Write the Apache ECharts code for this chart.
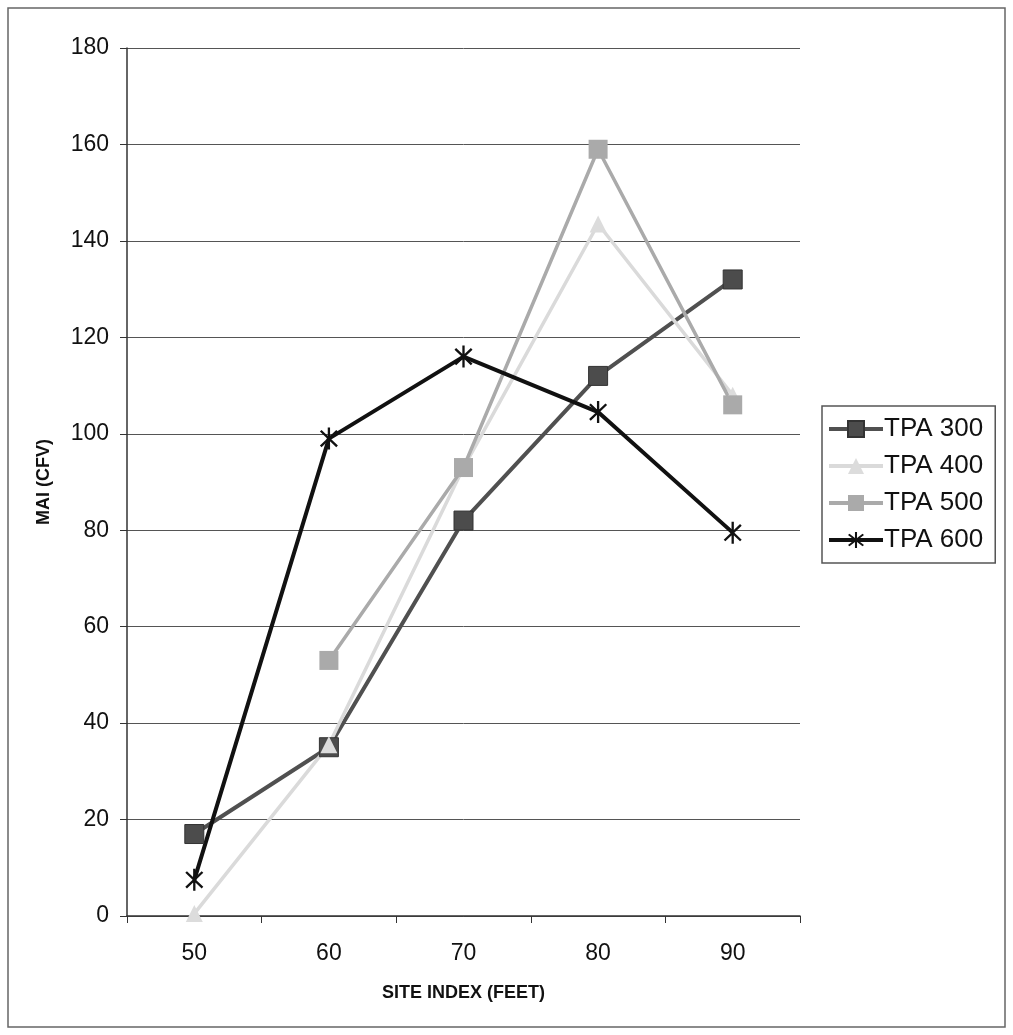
<!DOCTYPE html>
<html>
<head>
<meta charset="utf-8">
<script src="https://cdn.jsdelivr.net/npm/echarts@6/dist/echarts.min.js"></script>
<style>
  html, body { margin: 0; padding: 0; background: #fff; }
  #container { width: 1013px; height: 1035px; }
</style>
</head>
<body>
<div id="container"></div>
<script>
var siteIndex = ['50', '60', '70', '80', '90'];
var tpa300 = [17, 35, 82, 112, 132];
var tpa400 = [0.5, 35.5, 93, 143.5, 108];
var tpa500 = [null, 53, 93, 159, 106];
var tpa600 = [7.5, 99, 116, 104.5, 79.5];

// asterisk marker, three thin bars
var star = 'path://M-1,-10 L1,-10 L1,10 L-1,10 Z ' +
  'M-7.78,-6.36 L-6.36,-7.78 L7.78,6.36 L6.36,7.78 Z ' +
  'M-6.36,7.78 L-7.78,6.36 L6.36,-7.78 L7.78,-6.36 Z';

var dom = document.getElementById('container');
var myChart = echarts.init(dom, null, { renderer: 'canvas' });

var font = 'Liberation Sans, Arial, sans-serif';

var option = {
  animation: false,
  backgroundColor: '#fff',
  textStyle: { fontFamily: font },
  graphic: [{
    type: 'rect',
    shape: { x: 8, y: 8, width: 997, height: 1019 },
    style: { fill: 'none', stroke: '#666', lineWidth: 1.5 },
    silent: true
  }],
  grid: {
    left: 127,
    right: 213,
    top: 48,
    bottom: 119
  },
  legend: {
    orient: 'vertical',
    left: 822,
    top: 406,
    padding: [10, 12, 10, 5],
    itemWidth: 54,
    itemHeight: 20,
    itemGap: 11,
    borderColor: '#555',
    borderWidth: 1.5,
    lineStyle: { width: 4 },
    textStyle: { fontSize: 26, color: '#111', fontFamily: font, padding: [0, 0, 0, -4] },
    data: ['TPA 300', 'TPA 400', 'TPA 500', 'TPA 600']
  },
  xAxis: {
    type: 'category',
    data: siteIndex,
    boundaryGap: true,
    name: 'SITE INDEX (FEET)',
    nameLocation: 'middle',
    nameGap: 68,
    nameTextStyle: { fontSize: 18, fontWeight: 'bold', color: '#111' },
    axisLine: { lineStyle: { color: '#333', width: 1.5 } },
    axisTick: { show: true, length: 7, lineStyle: { color: '#333' } },
    axisLabel: { fontSize: 23, color: '#111', margin: 26 },
    splitLine: { show: false }
  },
  yAxis: {
    type: 'value',
    min: 0,
    max: 180,
    interval: 20,
    name: 'MAI (CFV)',
    nameLocation: 'middle',
    nameRotate: 90,
    nameGap: 74,
    nameTextStyle: { fontSize: 18, fontWeight: 'bold', color: '#111' },
    axisLine: { show: true, lineStyle: { color: '#333', width: 1.5 } },
    axisTick: { show: true, length: 7, lineStyle: { color: '#333' } },
    axisLabel: { fontSize: 23, color: '#111', margin: 18 },
    splitLine: { show: true, lineStyle: { color: '#555', width: 1 } }
  },
  series: [
    {
      name: 'TPA 300',
      type: 'line',
      data: tpa300,
      color: '#505050',
      symbol: 'rect',
      symbolSize: 19,
      lineStyle: { width: 4, color: '#505050' },
      itemStyle: { color: '#4c4c4c', borderColor: '#333', borderWidth: 1 }
    },
    {
      name: 'TPA 400',
      type: 'line',
      data: tpa400,
      color: '#d9d9d9',
      symbol: 'triangle',
      symbolSize: 17,
      lineStyle: { width: 3.5, color: '#dadada' },
      itemStyle: { color: '#dcdcdc' }
    },
    {
      name: 'TPA 500',
      type: 'line',
      data: tpa500,
      color: '#a9a9a9',
      symbol: 'rect',
      symbolSize: 19,
      lineStyle: { width: 3.5, color: '#aaaaaa' },
      itemStyle: { color: '#aaaaaa' }
    },
    {
      name: 'TPA 600',
      type: 'line',
      data: tpa600,
      color: '#111',
      symbol: star,
      symbolSize: [18, 22],
      symbolKeepAspect: false,
      lineStyle: { width: 4, color: '#111' },
      itemStyle: { color: '#111' }
    }
  ]
};

if (option && typeof option === 'object') {
  myChart.setOption(option);
}

window.addEventListener('resize', myChart.resize);
</script>
</body>
</html>
